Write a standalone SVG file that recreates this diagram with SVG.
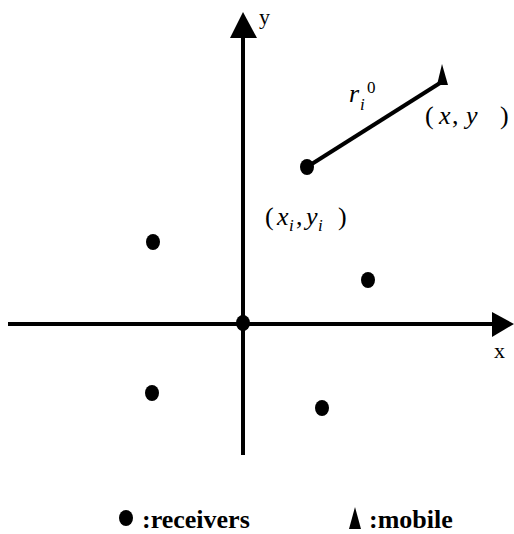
<svg xmlns="http://www.w3.org/2000/svg" width="514" height="534" viewBox="0 0 514 534">
<style>
.ax{stroke:#000;stroke-width:4;fill:none}
.dot{fill:#000}
.t{font-family:"Liberation Serif",serif;fill:#000}
.it{font-style:italic}
.b{font-weight:bold;font-size:26px}
</style>
<rect width="514" height="534" fill="#fff"/>
<g id="connectors">
<line class="ax" x1="8" y1="324" x2="494" y2="324"/>
<polygon points="492,312 514,324 492,337" fill="#000"/>
<line class="ax" x1="243" y1="36" x2="243" y2="455"/>
<polygon points="230,38 243,12 257,38" fill="#000"/>
<line class="ax" x1="307" y1="167" x2="440" y2="83"/>
</g>
<g id="axis-labels">
<text class="t" x="259" y="24" font-size="22">y</text>
<text class="t" x="494" y="358" font-size="22">x</text>
</g>
<g id="origin"><ellipse class="dot" cx="243" cy="323" rx="7" ry="8"/></g>
<g id="receiver-i">
<ellipse class="dot" cx="307" cy="167" rx="7" ry="8"/>
<text class="t" y="225" font-size="26"><tspan x="265">(</tspan><tspan class="it" x="277">x</tspan><tspan class="it" font-size="17" x="289" dy="6">i</tspan><tspan x="296" dy="-6">,</tspan><tspan class="it" x="306">y</tspan><tspan class="it" font-size="17" x="318" dy="6">i</tspan><tspan x="338" dy="-6">)</tspan></text>
</g>
<g id="receiver-1"><ellipse class="dot" cx="153" cy="242" rx="7" ry="8"/></g>
<g id="receiver-2"><ellipse class="dot" cx="368" cy="280" rx="7" ry="8"/></g>
<g id="receiver-3"><ellipse class="dot" cx="152" cy="393" rx="7" ry="8"/></g>
<g id="receiver-4"><ellipse class="dot" cx="322" cy="408" rx="7" ry="8"/></g>
<g id="mobile">
<polygon points="442,64 437,85 448,85" fill="#000"/>
<text class="t" y="124" font-size="26"><tspan x="425">(</tspan><tspan class="it" x="439">x</tspan><tspan x="452">,</tspan><tspan class="it" x="466">y</tspan><tspan x="500">)</tspan></text>
</g>
<g id="range-label">
<text class="t" y="102" font-size="26"><tspan class="it" x="349">r</tspan><tspan class="it" font-size="17" x="360" dy="8">i</tspan><tspan font-size="17" x="367" dy="-17">0</tspan></text>
</g>
<g id="legend">
<ellipse class="dot" cx="126" cy="518" rx="7" ry="8"/>
<text class="t b" x="142" y="528">:receivers</text>
<polygon points="355,507 349,529 361,529" fill="#000"/>
<text class="t b" x="369" y="528">:mobile</text>
</g>
</svg>
